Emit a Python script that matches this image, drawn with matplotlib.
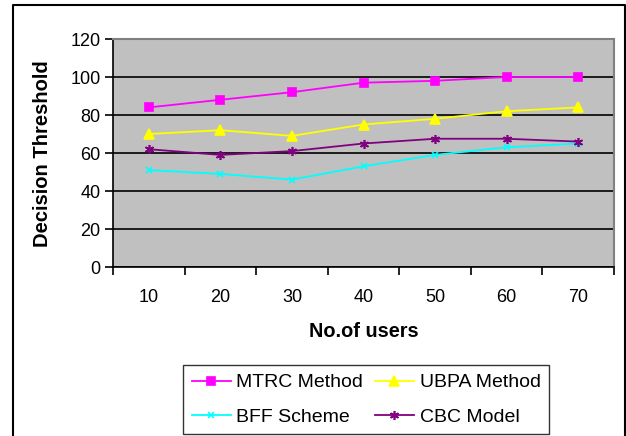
import matplotlib
matplotlib.use("Agg")
import matplotlib.pyplot as plt
from matplotlib.lines import Line2D
import numpy as np

users = [10, 20, 30, 40, 50, 60, 70]
mtrc = [84, 88, 92, 97, 98, 100, 100]
ubpa = [70, 72, 69, 75, 78, 82, 84]
bff = [51, 49, 46, 53, 59, 63, 65]
cbc = [62, 59, 61, 65, 67.5, 67.5, 66]
y_ticks = [0, 20, 40, 60, 80, 100, 120]

plt.rcParams['font.family'] = ['Liberation Sans', 'DejaVu Sans']

W, H = 626, 436
fig = plt.figure(figsize=(W / 100, H / 100), dpi=100)
fig.patch.set_facecolor('white')

# plot area in pixel terms
left, right, top, bottom = 113, 614, 39, 267
ax = fig.add_axes([left / W, 1 - bottom / H, (right - left) / W, (bottom - top) / H])
ax.set_facecolor('#C0C0C0')

x = np.arange(1, len(users) + 1)
series = [
    ('MTRC Method', mtrc, '#FF00FF', 's', 5.5),
    ('UBPA Method', ubpa, '#FFFF00', '^', 7),
    ('BFF Scheme', bff, '#00FFFF', 'x', 5),
    ('CBC Model', cbc, '#800080', (6, 2, 0), 6.5),
]
lines = {}
for name, vals, col, mk, ms in series:
    ln, = ax.plot(x, vals, color=col, marker=mk, markersize=ms, lw=1.3,
                  markeredgecolor=col, markerfacecolor=col, markeredgewidth=1.2,
                  label=name, zorder=3)
    lines[name] = ln

ax.set_xlim(0.5, len(users) + 0.5)
ax.set_ylim(0, 120)
ax.set_yticks(y_ticks)
ax.set_yticklabels([str(v) for v in y_ticks], fontsize=13)
ax.yaxis.grid(True, color='black', lw=1.2)
ax.set_axisbelow(True)

# category ticks sit between the labels
ax.set_xticks(np.arange(0.5, len(users) + 1, 1.0))
ax.set_xticklabels([])
ax.set_xticks(x, minor=True)
ax.set_xticklabels([str(u) for u in users], minor=True, fontsize=13)
ax.tick_params(axis='x', which='minor', length=0, pad=16)
ax.tick_params(axis='x', which='major', length=6, width=1.2, direction='out')
ax.tick_params(axis='y', length=6, width=1.2, direction='out', pad=3)

for s in ['left', 'bottom']:
    ax.spines[s].set_color('black')
    ax.spines[s].set_linewidth(1.2)
for s in ['top', 'right']:
    ax.spines[s].set_color('#808080')
    ax.spines[s].set_linewidth(1.5)

ax.set_xlabel('No.of users', fontsize=14.3, fontweight='bold', labelpad=11)
fig.text(43 / W, 1 - 154 / H, 'Decision Threshold', rotation=90, fontsize=14.5,
         fontweight='bold', ha='center', va='center')

# legend fills column-wise, so order gives rows MTRC/UBPA and BFF/CBC
order = ['MTRC Method', 'BFF Scheme', 'UBPA Method', 'CBC Model']
leg = fig.legend([lines[n] for n in order], order,
                 loc='upper left', bbox_to_anchor=(183 / W, 1 - 365 / H), ncol=2,
                 fontsize=14, frameon=True, fancybox=False, borderaxespad=0,
                 handlelength=2.0, columnspacing=0.6, handletextpad=0.3,
                 borderpad=0.45, labelspacing=0.85)
leg.get_frame().set_edgecolor('black')
leg.get_frame().set_linewidth(1.0)

# outer chart border
fig.add_artist(Line2D([13 / W, 13 / W, 625 / W, 625 / W],
                      [-0.01, 1 - 5 / H, 1 - 5 / H, -0.01],
                      transform=fig.transFigure, color='black', lw=1.5))

fig.savefig('out.png', dpi=100, facecolor='white')
